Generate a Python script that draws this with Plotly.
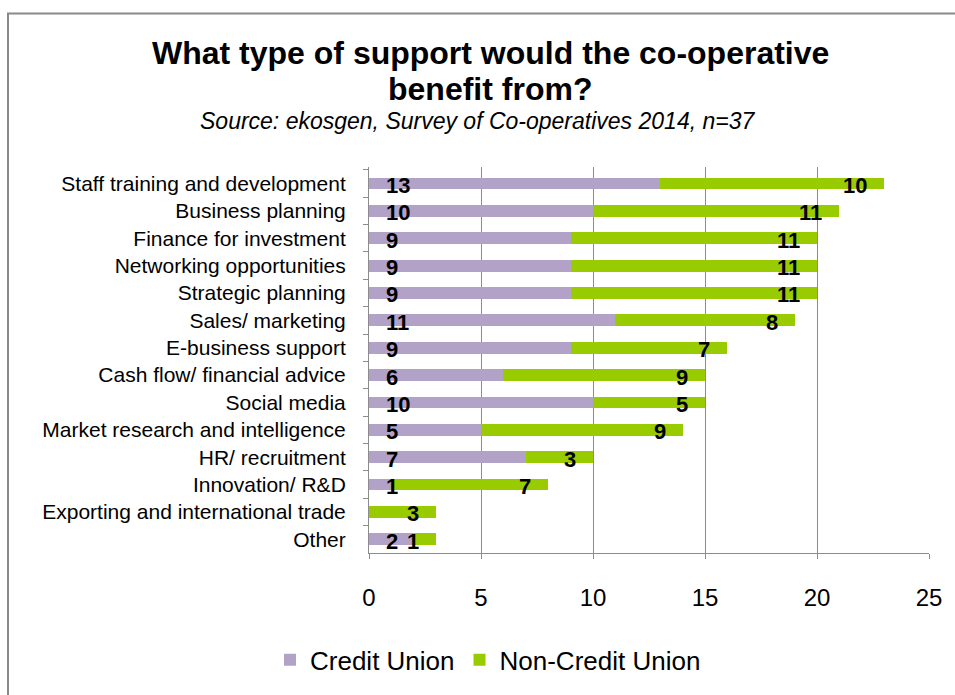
import plotly.graph_objects as go

# Survey responses: support types and counts per co-operative group
categories = [
    "Staff training and development",
    "Business planning",
    "Finance for investment",
    "Networking opportunities",
    "Strategic planning",
    "Sales/ marketing",
    "E-business support",
    "Cash flow/ financial advice",
    "Social media",
    "Market research and intelligence",
    "HR/ recruitment",
    "Innovation/ R&D",
    "Exporting and international trade",
    "Other",
]
credit_union = [13, 10, 9, 9, 9, 11, 9, 6, 10, 5, 7, 1, 0, 2]
non_credit_union = [10, 11, 11, 11, 11, 8, 7, 9, 5, 9, 3, 7, 3, 1]
x_ticks = [0, 5, 10, 15, 20, 25]

title_lines = ["What type of support would the co-operative", "benefit from?"]
subtitle = "Source: ekosgen, Survey of Co-operatives 2014, n=37"

PURPLE = "#B3A2C7"
GREEN = "#99CC00"
GRID = "#8C8C8C"
FONT = "Liberation Sans, Arial, sans-serif"

W, H = 955, 695
L, R, T, B = 369, 26, 167, 138
PW, PH = W - L - R, H - T - B


def px_x(p):
    return (p - L) / PW


def px_y(p):
    return (H - B - p) / PH


fig = go.Figure()
fig.add_trace(go.Bar(
    name="Credit Union", y=categories, x=credit_union, orientation="h",
    marker=dict(color=PURPLE, line=dict(width=0)),
    hoverinfo="x+y",
))
fig.add_trace(go.Bar(
    name="Non-Credit Union", y=categories, x=non_credit_union, orientation="h",
    marker=dict(color=GREEN, line=dict(width=0)),
    hoverinfo="x+y",
))

annotations = []
label_font = dict(family=FONT, size=22, color="black")
for cat, cu, ncu in zip(categories, credit_union, non_credit_union):
    if cu > 0:
        annotations.append(dict(
            x=0, y=cat, xref="x", yref="y", text=f"<b>{cu}</b>",
            showarrow=False, xanchor="left", yanchor="middle",
            xshift=15, yshift=-2, font=label_font,
        ))
    if ncu > 0:
        annotations.append(dict(
            x=cu + ncu, y=cat, xref="x", yref="y", text=f"<b>{ncu}</b>",
            showarrow=False, xanchor="right", yanchor="middle",
            xshift=-15, yshift=-2, font=label_font,
        ))

# Chart title (two lines) and source line
for line, ypix in zip(title_lines, [52, 88]):
    annotations.append(dict(
        x=px_x(490), y=px_y(ypix), xref="paper", yref="paper",
        text=f"<b>{line}</b>", showarrow=False,
        xanchor="center", yanchor="middle",
        font=dict(family=FONT, size=32, color="black"),
    ))
annotations.append(dict(
    x=px_x(477), y=px_y(121), xref="paper", yref="paper",
    text=f"<i>{subtitle}</i>",
    showarrow=False, xanchor="center", yanchor="middle",
    font=dict(family=FONT, size=23, color="black"),
))

fig.update_layout(
    width=W, height=H,
    margin=dict(l=L, r=R, t=T, b=B, pad=0),
    paper_bgcolor="white", plot_bgcolor="white",
    barmode="stack", bargap=0.57,
    font=dict(family=FONT, color="black"),
    showlegend=True,
    legend=dict(
        orientation="h", x=px_x(488), y=px_y(665),
        xanchor="center", yanchor="middle",
        font=dict(family=FONT, size=26, color="black"),
        itemwidth=30, traceorder="normal",
    ),
    annotations=annotations,
    shapes=[dict(
        type="rect", xref="paper", yref="paper",
        x0=px_x(8), x1=px_x(970), y0=px_y(710), y1=px_y(12),
        line=dict(color="#8A8A8A", width=2), fillcolor="rgba(0,0,0,0)",
        layer="below",
    )],
)

fig.update_xaxes(
    range=[0, 25], tickvals=x_ticks, ticktext=[str(v) for v in x_ticks],
    showgrid=True, gridcolor=GRID, gridwidth=1,
    showline=True, linecolor=GRID, linewidth=1,
    ticks="outside", ticklen=5, tickcolor=GRID,
    tickfont=dict(family=FONT, size=24, color="black"),
    ticklabelstandoff=18, zeroline=False, fixedrange=True,
)
fig.update_yaxes(
    autorange="reversed", type="category",
    showgrid=False, showline=True, linecolor=GRID, linewidth=1,
    ticks="outside", ticklen=5, tickcolor=GRID, tickson="boundaries",
    tickfont=dict(family=FONT, size=21, color="black"),
    ticklabelstandoff=18, fixedrange=True,
)

fig.write_html("out.html")
